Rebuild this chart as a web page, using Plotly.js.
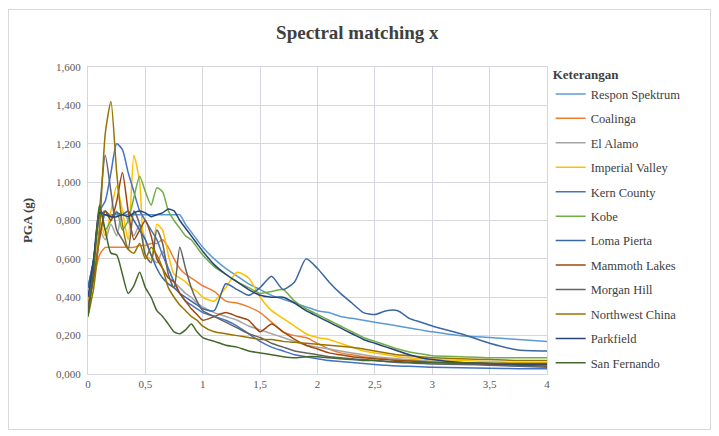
<!DOCTYPE html>
<html>
<head>
<meta charset="utf-8">
<script src="https://cdn.plot.ly/plotly-3.0.1.min.js"></script>
<style>
  html, body { margin: 0; padding: 0; background: #ffffff; }
  #wrap { position: relative; width: 719px; height: 436px; }
  #chart { position: absolute; left: 0; top: 0; width: 719px; height: 436px; }
  #frame { position: absolute; left: 8px; top: 9px; width: 703px; height: 421px; border: 1px solid #d9d9d9; pointer-events: none; box-sizing: border-box; }
</style>
</head>
<body>
<div id="wrap"><div id="chart"></div><div id="frame"></div></div>
<script>
// Period T (s)
const period = [0, 0.05, 0.1, 0.15, 0.2, 0.25, 0.3, 0.35, 0.4, 0.45, 0.5, 0.55, 0.6, 0.65, 0.7, 0.75, 0.8, 0.85, 0.9, 0.95, 1.0,
  1.1, 1.2, 1.3, 1.4, 1.5, 1.6, 1.7, 1.8, 1.9, 2.0, 2.1, 2.2, 2.3, 2.4, 2.5, 2.6, 2.7, 2.8, 2.9, 3.0, 3.25, 3.5, 3.75, 4.0];

const seriesNames = ["Respon Spektrum", "Coalinga", "El Alamo", "Imperial Valley", "Kern County", "Kobe",
  "Loma Pierta", "Mammoth Lakes", "Morgan Hill", "Northwest China", "Parkfield", "San Fernando"];

const responSpektrum = [0.33, 0.52, 0.71, 0.83, 0.83, 0.83, 0.83, 0.83, 0.83, 0.83, 0.83, 0.83, 0.83, 0.83, 0.83, 0.83, 0.83, 0.78, 0.74, 0.70, 0.66,
  0.60, 0.55, 0.51, 0.47, 0.44, 0.41, 0.39, 0.37, 0.35, 0.33, 0.32, 0.30, 0.29, 0.28, 0.27, 0.26, 0.25, 0.24, 0.23, 0.22, 0.20, 0.19, 0.18, 0.17];
const coalinga = [0.40, 0.50, 0.62, 0.66, 0.66, 0.66, 0.66, 0.66, 0.66, 0.67, 0.67, 0.68, 0.68, 0.70, 0.66, 0.60, 0.55, 0.52, 0.50, 0.48, 0.46,
  0.43, 0.38, 0.37, 0.35, 0.32, 0.27, 0.22, 0.20, 0.19, 0.16, 0.13, 0.11, 0.10, 0.09, 0.085, 0.08, 0.075, 0.07, 0.068, 0.065, 0.06, 0.055, 0.05, 0.05];
const elAlamo = [0.35, 0.50, 0.75, 0.70, 0.78, 0.72, 0.85, 0.80, 0.72, 0.78, 0.70, 0.62, 0.58, 0.64, 0.55, 0.48, 0.45, 0.42, 0.40, 0.37, 0.35,
  0.32, 0.30, 0.28, 0.25, 0.23, 0.21, 0.19, 0.17, 0.15, 0.14, 0.13, 0.12, 0.11, 0.10, 0.09, 0.085, 0.08, 0.075, 0.07, 0.065, 0.06, 0.055, 0.05, 0.045];
const imperialValley = [0.38, 0.55, 0.80, 0.72, 0.85, 0.98, 0.85, 0.70, 1.14, 1.00, 0.62, 0.60, 0.78, 0.75, 0.62, 0.52, 0.50, 0.48, 0.45, 0.43, 0.40,
  0.38, 0.45, 0.53, 0.50, 0.40, 0.33, 0.29, 0.25, 0.21, 0.19, 0.18, 0.16, 0.14, 0.12, 0.11, 0.10, 0.09, 0.085, 0.08, 0.075, 0.07, 0.065, 0.06, 0.06];
const kernCounty = [0.45, 0.60, 0.85, 0.90, 1.05, 1.20, 1.17, 1.05, 0.95, 0.85, 0.80, 0.75, 0.70, 0.62, 0.55, 0.48, 0.42, 0.38, 0.36, 0.34, 0.32,
  0.30, 0.28, 0.25, 0.21, 0.17, 0.14, 0.12, 0.10, 0.09, 0.08, 0.07, 0.065, 0.06, 0.055, 0.05, 0.045, 0.042, 0.04, 0.038, 0.035, 0.032, 0.03, 0.028, 0.027];
const kobe = [0.30, 0.55, 0.88, 0.75, 0.80, 0.85, 0.75, 0.80, 0.92, 1.03, 0.95, 0.88, 0.97, 0.95, 0.85, 0.80, 0.76, 0.72, 0.70, 0.66, 0.62,
  0.56, 0.52, 0.48, 0.45, 0.42, 0.43, 0.44, 0.38, 0.34, 0.31, 0.28, 0.25, 0.22, 0.19, 0.17, 0.15, 0.13, 0.115, 0.105, 0.095, 0.09, 0.085, 0.085, 0.085];
const lomaPierta = [0.45, 0.60, 0.82, 0.85, 0.82, 0.84, 0.83, 0.85, 0.80, 0.75, 0.70, 0.62, 0.55, 0.50, 0.47, 0.45, 0.42, 0.40, 0.38, 0.36, 0.34,
  0.33, 0.47, 0.44, 0.41, 0.45, 0.51, 0.44, 0.48, 0.60, 0.55, 0.48, 0.42, 0.37, 0.32, 0.31, 0.33, 0.33, 0.29, 0.27, 0.25, 0.21, 0.16, 0.125, 0.12];
const mammothLakes = [0.35, 0.50, 0.70, 0.85, 0.80, 0.90, 1.05, 0.85, 0.70, 0.75, 0.80, 0.72, 0.60, 0.55, 0.50, 0.48, 0.42, 0.38, 0.34, 0.31, 0.28,
  0.30, 0.32, 0.30, 0.28, 0.22, 0.26, 0.22, 0.18, 0.15, 0.13, 0.11, 0.10, 0.09, 0.085, 0.08, 0.075, 0.07, 0.068, 0.065, 0.06, 0.055, 0.05, 0.045, 0.04];
const morganHill = [0.32, 0.60, 0.85, 1.14, 0.95, 0.75, 0.70, 0.65, 0.85, 0.78, 0.62, 0.58, 0.75, 0.68, 0.52, 0.45, 0.66, 0.55, 0.45, 0.38, 0.33,
  0.30, 0.27, 0.24, 0.21, 0.19, 0.16, 0.14, 0.12, 0.11, 0.10, 0.09, 0.085, 0.08, 0.075, 0.07, 0.065, 0.06, 0.058, 0.055, 0.052, 0.05, 0.045, 0.04, 0.035];
const northwestChina = [0.30, 0.45, 0.75, 1.25, 1.42, 1.05, 0.78, 0.65, 0.63, 0.68, 0.60, 0.66, 0.62, 0.55, 0.45, 0.40, 0.36, 0.33, 0.30, 0.28, 0.25,
  0.22, 0.21, 0.20, 0.19, 0.18, 0.18, 0.17, 0.165, 0.16, 0.155, 0.15, 0.145, 0.14, 0.13, 0.12, 0.11, 0.10, 0.095, 0.09, 0.085, 0.08, 0.075, 0.07, 0.07];
const parkfield = [0.40, 0.60, 0.84, 0.83, 0.82, 0.82, 0.83, 0.82, 0.84, 0.85, 0.84, 0.82, 0.83, 0.84, 0.86, 0.85, 0.80, 0.76, 0.72, 0.68, 0.64,
  0.57, 0.52, 0.48, 0.44, 0.41, 0.40, 0.40, 0.37, 0.33, 0.30, 0.27, 0.24, 0.21, 0.18, 0.16, 0.14, 0.12, 0.10, 0.085, 0.075, 0.06, 0.055, 0.05, 0.05];
const sanFernando = [0.30, 0.55, 0.88, 0.75, 0.63, 0.62, 0.52, 0.42, 0.46, 0.53, 0.45, 0.40, 0.33, 0.30, 0.26, 0.22, 0.21, 0.23, 0.26, 0.22, 0.19,
  0.17, 0.15, 0.14, 0.12, 0.11, 0.10, 0.09, 0.085, 0.09, 0.09, 0.085, 0.08, 0.075, 0.07, 0.07, 0.065, 0.065, 0.06, 0.06, 0.06, 0.058, 0.056, 0.055, 0.055];

const yTickVals = [0, 0.2, 0.4, 0.6, 0.8, 1.0, 1.2, 1.4, 1.6];
const xTickVals = [0, 0.5, 1, 1.5, 2, 2.5, 3, 3.5, 4];

const allSeries = [responSpektrum, coalinga, elAlamo, imperialValley, kernCounty, kobe,
  lomaPierta, mammothLakes, morganHill, northwestChina, parkfield, sanFernando];
const colors = ["#5B9BD5", "#ED7D31", "#A5A5A5", "#FFC000", "#4472C4", "#70AD47",
  "#3B67A3", "#9E480E", "#636363", "#997300", "#264478", "#43682B"];

const serif = "Liberation Serif, Times New Roman, serif";

const traces = allSeries.map((vals, i) => ({
  type: "scatter",
  mode: "lines",
  name: seriesNames[i],
  x: period,
  y: vals,
  legendgroup: "g" + i,
  line: { color: colors[i], width: 1.5, shape: "spline", smoothing: 0.6 }
}));

const layout = {
  width: 719,
  height: 436,
  paper_bgcolor: "#ffffff",
  plot_bgcolor: "#ffffff",
  separators: ",.",
  margin: { l: 88, r: 172, t: 67, b: 62, pad: 0 },
  title: {
    text: "<b>Spectral matching x</b>",
    font: { family: serif, size: 19, color: "#404040" },
    x: 0.497, xref: "container", xanchor: "center",
    y: 0.925, yref: "container", yanchor: "middle"
  },
  xaxis: {
    range: [0, 4],
    tickvals: xTickVals,
    tickfont: { family: serif, size: 11, color: "#595959" },
    showgrid: true,
    gridcolor: "#d6d6e0",
    gridwidth: 1,
    zeroline: false,
    showline: true,
    linecolor: "#d6d6e0",
    mirror: true,
    ticks: "",
    fixedrange: true
  },
  yaxis: {
    range: [0, 1.6],
    tickvals: yTickVals,
    tickformat: ".3f",
    tickfont: { family: serif, size: 11, color: "#595959" },
    showgrid: true,
    gridcolor: "#d6d6e0",
    gridwidth: 1,
    zeroline: false,
    showline: true,
    linecolor: "#d6d6e0",
    mirror: true,
    ticks: "",
    ticklabelstandoff: 4,
    title: { text: "<b>PGA (g)</b>", font: { family: serif, size: 13, color: "#404040" }, standoff: 20 },
    fixedrange: true
  },
  legend: {
    x: 1.008, xanchor: "left",
    y: 1.015, yanchor: "top",
    maxheight: 420,
    font: { family: serif, size: 12.5, color: "#404040" },
    title: { text: "<b>Keterangan</b>", font: { family: serif, size: 13, color: "#404040" }, side: "top" },
    tracegroupgap: 5.2,
    itemwidth: 30,
    bgcolor: "rgba(0,0,0,0)"
  },
  showlegend: true
};

Plotly.newPlot("chart", traces, layout, { displayModeBar: false, staticPlot: true });
</script>
</body>
</html>
